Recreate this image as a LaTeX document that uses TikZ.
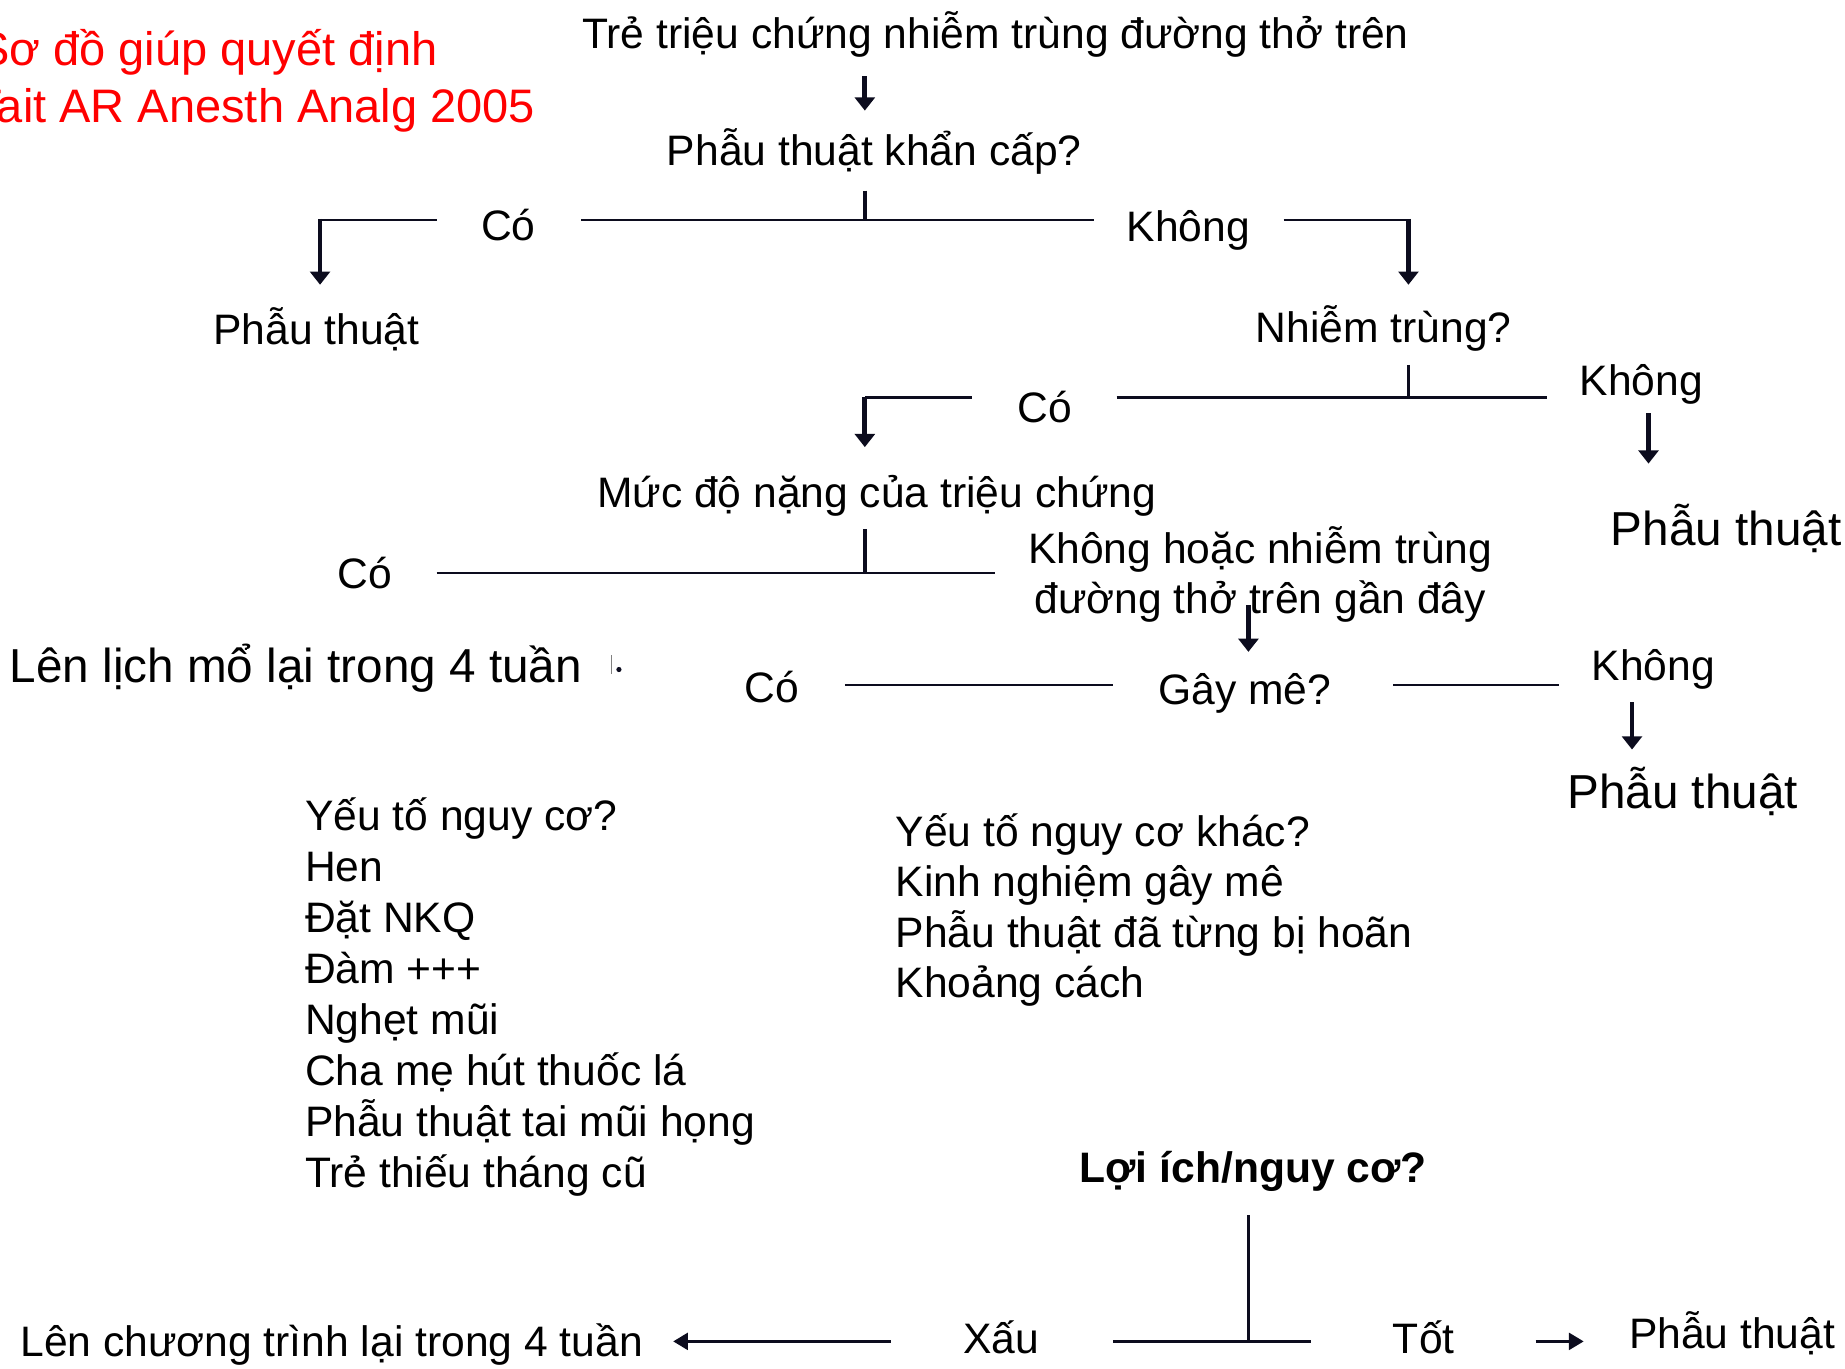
\documentclass[tikz,border=0pt]{standalone}
\usepackage{fontspec}
\setmainfont{Liberation Sans}
\usetikzlibrary{arrows.meta}
\definecolor{ink}{RGB}{12,12,30}
\begin{document}
\begin{tikzpicture}[x=0.025cm,y=-0.025cm,
  t/.style={anchor=base, inner sep=0pt, font=\fontsize{25.75}{30.8}\selectfont},
  tbig/.style={t, font=\fontsize{28.8}{34}\selectfont},
  tred/.style={t, text=red, font=\fontsize{28.4}{34}\selectfont},
  ln/.style={line width=1.5pt, draw=ink},
  tick/.style={line width=2pt, draw=ink},
  ar/.style={line width=2.9pt, draw=ink, -{Triangle[length=8pt,width=12pt]}},
  arthick/.style={line width=2.2pt, draw=ink, -{Triangle[length=9pt,width=10pt]}}]
\useasboundingbox (0,0) rectangle (1568,1163);

% title
\node[tred, anchor=base east] (red1) at (372,56) {Sơ đồ giúp quyết định};
\node[tred, anchor=base east] (red2) at (455,104) {Tait AR Anesth Analg 2005};

% level 1
\node[t] (top) at (846,41) {Trẻ triệu chứng nhiễm trùng đường thở trên};
\coordinate (a1s) at (735,65); \coordinate (a1e) at (735,94);
\draw[ar] (a1s) -- (a1e);
\node[t] (q1) at (743,141) {Phẫu thuật khẩn cấp?};
\coordinate (q1t) at (735,162); \coordinate (q1b) at (735,187);
\draw[tick] (q1t) -- (q1b);
\coordinate (h1l) at (494,187); \coordinate (h1r) at (930,187);
\draw[ln] (h1l) -- (h1r);
\node[t] (co1) at (432,204) {Có};
\node[t] (kh1) at (1010,205) {Không};
\coordinate (b1a) at (371,187); \coordinate (b1b) at (272,187); \coordinate (b1c) at (272,242);
\draw[ln] (b1a) -- (b1b);
\draw[ar] ([yshift=0.7pt]b1b) -- (b1c);
\coordinate (b2a) at (1091,187); \coordinate (b2b) at (1197,187); \coordinate (b2c) at (1197,242);
\draw[ln] (b2a) -- (b2b);
\draw[ar] ([yshift=0.7pt]b2b) -- (b2c);
\node[t] (pt1) at (269,293) {Phẫu thuật};

% level 2
\node[t] (q2) at (1176,291) {Nhiễm trùng?};
\coordinate (q2t) at (1197,310); \coordinate (q2b) at (1197,338);
\draw[tick] (q2t) -- (q2b);
\coordinate (h2l) at (949,338); \coordinate (h2r) at (1315,338);
\draw[ln] (h2l) -- (h2r);
\node[t] (co2) at (888,359) {Có};
\node[t] (kh2) at (1395,336) {Không};
\coordinate (b3a) at (826,338); \coordinate (b3b) at (735,338); \coordinate (b3c) at (735,380);
\draw[ln] (b3a) -- (b3b);
\draw[ar] ([yshift=0.7pt]b3b) -- (b3c);
\coordinate (a2s) at (1401,351); \coordinate (a2e) at (1401,394);
\draw[ar] (a2s) -- (a2e);
\node[tbig] (pt2) at (1467,464) {Phẫu thuật};

% level 3
\node[t] (q3) at (745,431) {Mức độ nặng của triệu chứng};
\coordinate (q3t) at (735,450); \coordinate (q3b) at (735,487);
\draw[tick] (q3t) -- (q3b);
\coordinate (h3l) at (371,487); \coordinate (h3r) at (846,487);
\draw[ln] (h3l) -- (h3r);
\node[t] (co3) at (310,500) {Có};
\node[t] (kh3a) at (1071,479) {Không hoặc nhiễm trùng};
\node[t] (kh3b) at (1071,521) {đường thở trên gần đây};
\coordinate (a3s) at (1061,514); \coordinate (a3e) at (1061,554);
\draw[ar] (a3s) -- (a3e);
\node[tbig, anchor=base west] (len1) at (8,580) {Lên lịch mổ lại trong 4 tuần};
\coordinate (frag1) at (520,557); \coordinate (frag2) at (520,573);
\draw[line width=0.6pt, draw=gray] (frag1) -- (frag2);
\fill[ink] (526,569) circle (2.2);

% level 4
\node[t] (co4) at (656,597) {Có};
\node[t] (q4) at (1058,599) {Gây mê?};
\coordinate (h4a) at (718,582); \coordinate (h4b) at (946,582);
\draw[ln] (h4a) -- (h4b);
\coordinate (h4c) at (1184,582); \coordinate (h4d) at (1325,582);
\draw[ln] (h4c) -- (h4d);
\node[t] (kh4) at (1405,578) {Không};
\coordinate (a4s) at (1387,597); \coordinate (a4e) at (1387,637);
\draw[ar] (a4s) -- (a4e);
\node[tbig] (pt4) at (1430,687) {Phẫu thuật};

% lists
\foreach \s [count=\i from 0] in {Yếu tố nguy cơ?,Hen,Đặt NKQ,Đàm +++,Nghẹt mũi,Cha mẹ hút thuốc lá,Phẫu thuật tai mũi họng,Trẻ thiếu tháng cũ}
  \node[t, anchor=base west] (la\i) at (259,706+43.3*\i) {\s};
\foreach \s [count=\i from 0] in {Yếu tố nguy cơ khác?,Kinh nghiệm gây mê,Phẫu thuật đã từng bị hoãn,Khoảng cách}
  \node[t, anchor=base west] (lb\i) at (761,719+43*\i) {\s};

% bottom
\node[t, font=\fontsize{25.75}{30.8}\selectfont\bfseries] (q5) at (1065,1005) {Lợi ích/nguy cơ?};
\coordinate (q5t) at (1061,1033); \coordinate (q5b) at (1061,1140);
\draw[tick, line width=2.2pt] (q5t) -- (q5b);
\coordinate (h5l) at (946,1140); \coordinate (h5r) at (1114,1140);
\draw[ln] (h5l) -- (h5r);
\node[t] (xau) at (851,1150) {Xấu};
\node[t] (tot) at (1210,1150) {Tốt};
\coordinate (a5s) at (757,1140); \coordinate (a5e) at (572,1140);
\draw[arthick] (a5s) -- (a5e);
\node[t, anchor=base west] (len2) at (17,1153) {Lên chương trình lại trong 4 tuần};
\coordinate (a6s) at (1305,1140); \coordinate (a6e) at (1346,1140);
\draw[arthick] (a6s) -- (a6e);
\node[t] (pt5) at (1472,1146) {Phẫu thuật};
\end{tikzpicture}
\end{document}
